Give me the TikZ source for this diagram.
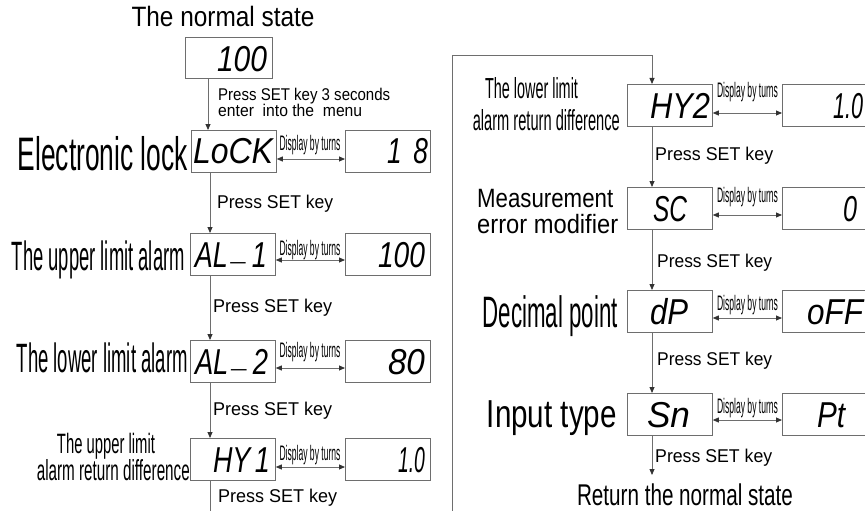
\documentclass[tikz,border=0pt]{standalone}
\usepackage{fontspec}
\setmainfont{Liberation Sans}
\usepackage{graphicx}
\usetikzlibrary{arrows.meta}
\newcommand\fw[3]{\resizebox{#2pt}{\height}{\fontsize{#1}{#1}\selectfont #3}}
\newcommand\sg[2]{\resizebox{#1pt}{\height}{\fontsize{36}{36}\selectfont\itshape #2}}
\definecolor{lineg}{RGB}{110,110,110}
\definecolor{tipg}{RGB}{50,50,50}
\tikzset{
  lbl/.style={inner sep=0pt, text=black},
  dispbox/.style={draw=lineg, line width=0.8pt, minimum width=85pt, minimum height=42pt, inner sep=0pt, anchor=north west},
  arr/.style={draw=lineg, line width=0.8pt, -{Triangle[length=6pt,width=5pt,color=tipg]}},
  darr/.style={draw=lineg, line width=0.8pt, {Triangle[length=6pt,width=5pt,color=tipg]}-{Triangle[length=6pt,width=5pt,color=tipg]}},
  plainline/.style={draw=lineg, line width=0.8pt}
}
\begin{document}
\begin{tikzpicture}[x=1pt,y=-1pt]
\useasboundingbox (0,0) rectangle (865,511);
\clip (0,0) rectangle (865,511);

% ---------- left column ----------
\node[lbl, anchor=base] (title) at (223,27) {\fw{28}{183}{The normal state}};
\node[dispbox, minimum width=87pt, minimum height=41pt] (b0) at (185,37) {};
\node[lbl, anchor=base] (s0) at (242,72) {\sg{50}{100}};
\node[lbl, anchor=base west] (p0a) at (218,100) {\fw{17}{172}{Press SET key 3 seconds}};
\node[lbl, anchor=base west] (p0b) at (218,117) {\fw{17}{144}{enter\ \ into the\ \ menu}};

\node[dispbox] (b1) at (191,130) {};
\node[dispbox] (r1) at (345,130) {};
\node[lbl, anchor=base] (s1) at (233,163) {\sg{80}{LoCK}};
\node[lbl, anchor=base] (v1) at (407.5,163) {\sg{41}{1\hspace{0.45em}8}};
\node[lbl, anchor=base east] (l1) at (188,170) {\fw{47}{170}{Electronic lock}};
\node[lbl, anchor=base] (d1) at (310,150) {\fw{21}{61}{Display by turns}};
\node[lbl, anchor=base west] (p1) at (217,208) {\fw{18.5}{116}{Press SET key}};

\node[dispbox] (b2) at (190,233) {};
\node[dispbox] (r2) at (345,233) {};
\node[lbl, anchor=base] (s2) at (231,267) {\sg{72}{AL\,\raisebox{0.2em}{\_}\,1}};
\node[lbl, anchor=base] (v2) at (401.5,267) {\sg{47}{100}};
\node[lbl, anchor=base east] (l2) at (185,270) {\fw{41}{173}{The upper limit alarm}};
\node[lbl, anchor=base] (d2) at (310,255) {\fw{21}{61}{Display by turns}};
\node[lbl, anchor=base west] (p2) at (213,312) {\fw{18.5}{119}{Press SET key}};

\node[dispbox] (b3) at (190,340) {};
\node[dispbox] (r3) at (345,340) {};
\node[lbl, anchor=base] (s3) at (231.5,374) {\sg{73}{AL\,\raisebox{0.2em}{\_}\,2}};
\node[lbl, anchor=base] (v3) at (406.5,374) {\sg{37}{80}};
\node[lbl, anchor=base east] (l3) at (188,372) {\fw{41}{171}{The lower limit alarm}};
\node[lbl, anchor=base] (d3) at (310,357) {\fw{21}{61}{Display by turns}};
\node[lbl, anchor=base west] (p3) at (213,415) {\fw{18.5}{119}{Press SET key}};

\node[dispbox] (b4) at (190,438) {};
\node[dispbox] (r4) at (345,438) {};
\node[lbl, anchor=base] (s4) at (241.5,472) {\sg{57}{HY\,1}};
\node[lbl, anchor=base] (v4) at (411.5,472) {\sg{27}{1.0}};
\node[lbl, anchor=base] (l4a) at (106,453) {\fw{28}{98}{The upper limit}};
\node[lbl, anchor=base east] (l4b) at (190,480) {\fw{29}{153}{alarm return difference}};
\node[lbl, anchor=base] (d4) at (310,460) {\fw{21}{61}{Display by turns}};
\node[lbl, anchor=base west] (p4) at (218,502) {\fw{18.5}{119}{Press SET key}};
\coordinate (c4) at (210,511);

% ---------- right column ----------
\coordinate (f1) at (452,511);
\coordinate (f2) at (452,55);
\coordinate (f3) at (652,55);

\node[dispbox] (b5) at (627,84) {};
\node[dispbox] (r5) at (782,84) {};
\node[lbl, anchor=base] (s5) at (680,118) {\sg{60}{HY2}};
\node[lbl, anchor=base] (v5) at (848,118) {\sg{30}{1.0}};
\node[lbl, anchor=base] (l5a) at (531.5,99) {\fw{29}{93}{The lower limit}};
\node[lbl, anchor=base east] (l5b) at (620,130) {\fw{29}{147}{alarm return difference}};
\node[lbl, anchor=base] (d5) at (747.5,98) {\fw{21}{61}{Display by turns}};
\node[lbl, anchor=base west] (p5) at (655,160) {\fw{18.5}{118}{Press SET key}};

\node[dispbox] (b6) at (627,187) {};
\node[dispbox] (r6) at (782,187) {};
\node[lbl, anchor=base] (s6) at (670,221) {\sg{34}{SC}};
\node[lbl, anchor=base] (v6) at (850,221) {\sg{14}{0}};
\node[lbl, anchor=base west] (l6a) at (477,207) {\fw{26.5}{136}{Measurement}};
\node[lbl, anchor=base west] (l6b) at (477,233) {\fw{26.5}{141}{error modifier}};
\node[lbl, anchor=base] (d6) at (747.5,202) {\fw{21}{61}{Display by turns}};
\node[lbl, anchor=base west] (p6) at (657,267) {\fw{18.5}{115}{Press SET key}};

\node[dispbox] (b7) at (627,290) {};
\node[dispbox] (r7) at (782,290) {};
\node[lbl, anchor=base] (s7) at (669,324) {\sg{38}{dP}};
\node[lbl, anchor=base] (v7) at (835,324) {\sg{56}{oFF}};
\node[lbl, anchor=base east] (l7) at (618,327) {\fw{44}{135}{Decimal point}};
\node[lbl, anchor=base] (d7) at (747.5,310) {\fw{21}{61}{Display by turns}};
\node[lbl, anchor=base west] (p7) at (657,365) {\fw{18.5}{115}{Press SET key}};

\node[dispbox] (b8) at (627,393) {};
\node[dispbox] (r8) at (782,393) {};
\node[lbl, anchor=base] (s8) at (668.5,427) {\sg{43}{Sn}};
\node[lbl, anchor=base] (v8) at (831,427) {\sg{28}{Pt}};
\node[lbl, anchor=base east] (l8) at (617,427) {\fw{39}{130}{Input type}};
\node[lbl, anchor=base] (d8) at (747.5,413) {\fw{21}{61}{Display by turns}};
\node[lbl, anchor=base west] (p8) at (655,462) {\fw{18.5}{117}{Press SET key}};
\coordinate (c8) at (652,475);
\node[lbl, anchor=base] (ret) at (685,505) {\fw{30}{216}{Return the normal state}};

% ---------- connectors ----------
\draw[arr] ([xshift=23pt]b0.south west) -- ([xshift=23pt]b0.south west |- b1.north);
\draw[arr] ([xshift=19pt]b1.south west) -- ([xshift=19pt]b1.south west |- b2.north);
\draw[arr] ([xshift=20pt]b2.south west) -- ([xshift=20pt]b2.south west |- b3.north);
\draw[arr] ([xshift=20pt]b3.south west) -- ([xshift=20pt]b3.south west |- b4.north);
\draw[plainline] ([xshift=20pt]b4.south west) -- (c4);

\draw[arr] (f1) -- (f2) -- (f3) -- (f3 |- b5.north);
\draw[arr] ([xshift=25pt]b5.south west) -- ([xshift=25pt]b5.south west |- b6.north);
\draw[arr] ([xshift=25pt]b6.south west) -- ([xshift=25pt]b6.south west |- b7.north);
\draw[arr] ([xshift=25pt]b7.south west) -- ([xshift=25pt]b7.south west |- b8.north);
\draw[arr] ([xshift=25pt]b8.south west) -- (c8);

\draw[darr] ([yshift=-29pt]b1.north east) -- ([yshift=-29pt]r1.north west);
\draw[darr] ([yshift=-27pt]b2.north east) -- ([yshift=-27pt]r2.north west);
\draw[darr] ([yshift=-28pt]b3.north east) -- ([yshift=-28pt]r3.north west);
\draw[darr] ([yshift=-29pt]b4.north east) -- ([yshift=-29pt]r4.north west);
\draw[darr] ([yshift=-29pt]b5.north east) -- ([yshift=-29pt]r5.north west);
\draw[darr] ([yshift=-28pt]b6.north east) -- ([yshift=-28pt]r6.north west);
\draw[darr] ([yshift=-28pt]b7.north east) -- ([yshift=-28pt]r7.north west);
\draw[darr] ([yshift=-27pt]b8.north east) -- ([yshift=-27pt]r8.north west);
\end{tikzpicture}
\end{document}
